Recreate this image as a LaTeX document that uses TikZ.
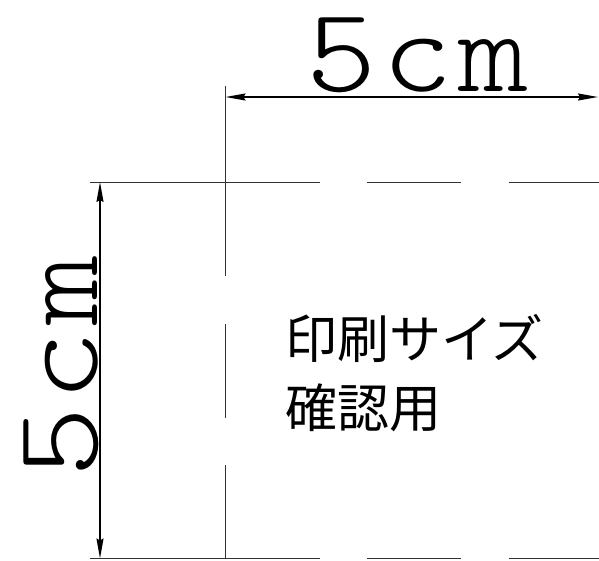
\documentclass[tikz,border=0pt]{standalone}
\usepackage{fontspec}
\newfontfamily\jpfont{Noto Sans CJK JP}
\newfontfamily\cadfont[LetterSpace=4.5]{lmmonolt10-regular.otf}
\usetikzlibrary{arrows.meta}
\begin{document}
\begin{tikzpicture}[x=1pt,y=-1pt,
  thinline/.style={line width=0.9pt,draw=black!80},
  edgeline/.style={thinline,dash pattern=on 94pt off 47.5pt},
  dimline/.style={line width=1.6pt,draw=black,{Stealth[length=20pt,width=7pt,inset=2pt]}-{Stealth[length=20pt,width=7pt,inset=2pt]}},
  cadtext/.style={inner sep=0pt,font=\cadfont\fontsize{134}{134}\selectfont},
  jptext/.style={inner sep=0pt,anchor=base west,font=\jpfont\fontsize{52}{52}\selectfont}]
\useasboundingbox (0,0) rectangle (599,561);
% coordinates
\coordinate (vtop) at (225.5,86);
\coordinate (corner) at (225.5,182);
\coordinate (cornerb) at (225.5,558.5);
\coordinate (tl) at (90,182);
\coordinate (tr) at (599,182);
\coordinate (bl) at (90,558.5);
\coordinate (br) at (599,558.5);
\coordinate (ha) at (225.5,97);
\coordinate (hb) at (598,97);
\coordinate (va) at (100,182);
\coordinate (vb) at (100,558.5);
% extension lines
\draw[thinline] (vtop) -- (corner);
\draw[thinline] (tl) -- (corner);
\draw[thinline] (bl) -- (cornerb);
% dashed edges
\draw[edgeline] (corner) -- (tr);
\draw[edgeline] (cornerb) -- (br);
\draw[edgeline] (corner) -- (cornerb);
% dimension arrows
\draw[dimline] (ha) -- (hb);
\draw[dimline] (va) -- (vb);
% dimension texts
\node[cadtext,anchor=base west] (toptext) at (306,92) {\scalebox{1}[0.9]{5cm}};
\node[cadtext,rotate=90,anchor=base west] (lefttext) at (97,478) {\scalebox{1}[0.9]{5cm}};
% label
\node[jptext] (line1) at (285,358) {印刷サイズ};
\node[jptext] (line2) at (285,427) {確認用};
\end{tikzpicture}
\end{document}
